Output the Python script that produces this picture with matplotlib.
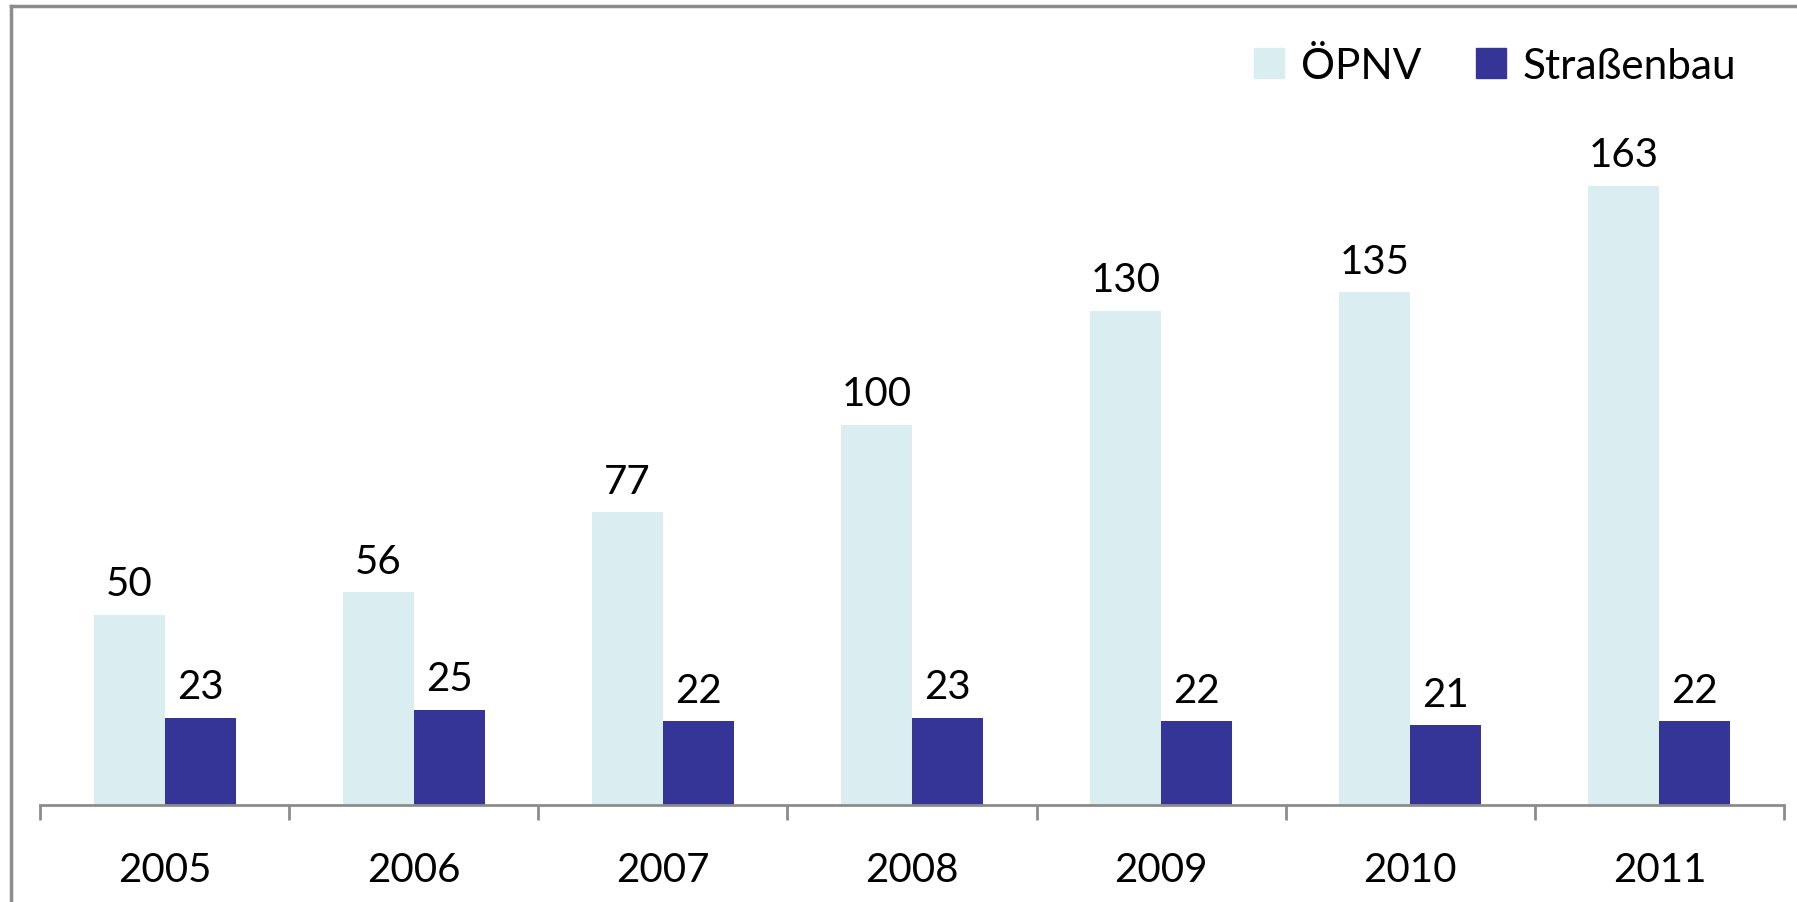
import matplotlib.pyplot as plt
import numpy as np
from matplotlib.lines import Line2D
from matplotlib.patches import Patch

years = ["2005", "2006", "2007", "2008", "2009", "2010", "2011"]
oepnv = [50, 56, 77, 100, 130, 135, 163]
strassenbau = [23, 25, 22, 23, 22, 21, 22]

col_oepnv = "#daedf0"
col_strasse = "#353598"
grey = "#8c8c8c"

plt.rcParams["font.family"] = ["Lato", "DejaVu Sans"]

W, H = 1797, 903
fig = plt.figure(figsize=(W / 100, H / 100), dpi=100)

# plot area in pixels: x 40..1784, baseline at y=806, top at y=7
ax = fig.add_axes([40 / W, (H - 806) / H, (1784 - 40) / W, (806 - 7) / H])

x = np.arange(len(years))
w = 0.285
b1 = ax.bar(x - w / 2, oepnv, w, color=col_oepnv, label="ÖPNV")
b2 = ax.bar(x + w / 2, strassenbau, w, color=col_strasse, label="Straßenbau")

ax.bar_label(b1, padding=9, fontsize=29)
ax.bar_label(b2, padding=9, fontsize=29)

ax.set_xlim(-0.5, len(years) - 0.5)
ax.set_ylim(0, (806 - 7) / 3.8)

ax.set_yticks([])
for s in ["top", "right", "left"]:
    ax.spines[s].set_visible(False)
ax.spines["bottom"].set_color(grey)
ax.spines["bottom"].set_linewidth(2)

ax.set_xticks(x)
ax.set_xticklabels(years, fontsize=29)
ax.tick_params(axis="x", which="major", length=0, pad=33)
ax.set_xticks(np.arange(len(years) + 1) - 0.5, minor=True)
ax.tick_params(axis="x", which="minor", length=11, width=2, color=grey)

# chart frame (left and top edges visible in the crop)
fig.add_artist(Line2D([11 / W, 11 / W], [0, 1 - 7 / H], color=grey, lw=2.5))
fig.add_artist(Line2D([11 / W, 1], [1 - 7 / H, 1 - 7 / H], color=grey, lw=2.5))

handles = [Patch(color=col_oepnv), Patch(color=col_strasse)]
fig.legend(handles, ["ÖPNV", "Straßenbau"], loc="center left",
           bbox_to_anchor=(1254 / W, 1 - 67 / H), ncol=2, frameon=False,
           fontsize=30.5, handlelength=0.7, handleheight=0.7,
           handletextpad=0.4, columnspacing=1.3, borderaxespad=0,
           borderpad=0)

fig.savefig("out.png", dpi=100)
